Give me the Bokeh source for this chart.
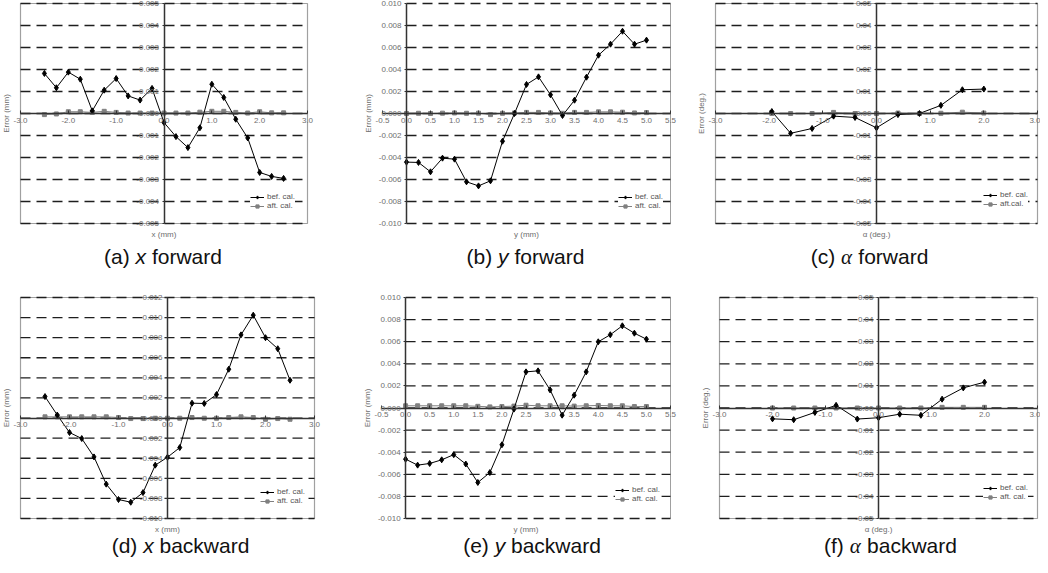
import math
from bokeh.plotting import figure
from bokeh.models import Range1d, FixedTicker, PrintfTickFormatter, Label
from bokeh.layouts import column, row
from bokeh.embed import file_html
from bokeh.resources import INLINE

# ---------------- data ----------------
x_pos = [-2.5, -2.25, -2.0, -1.75, -1.5, -1.25, -1.0, -0.75, -0.5, -0.25, 0.0,
         0.25, 0.5, 0.75, 1.0, 1.25, 1.5, 1.75, 2.0, 2.25, 2.5]
y_pos = [0.0, 0.25, 0.5, 0.75, 1.0, 1.25, 1.5, 1.75, 2.0, 2.25, 2.5,
         2.75, 3.0, 3.25, 3.5, 3.75, 4.0, 4.25, 4.5, 4.75, 5.0]
alpha_fwd_pos = [-1.95, -1.6, -1.2, -0.8, -0.4, 0.0, 0.4, 0.8, 1.2, 1.6, 2.0]
alpha_bwd_pos = [-2.0, -1.6, -1.2, -0.8, -0.4, 0.0, 0.4, 0.8, 1.2, 1.6, 2.0]

# (a) x forward
xf_bef = [0.00182, 0.00117, 0.00188, 0.00156, 0.00012, 0.00106, 0.00159, 0.00080, 0.00061, 0.00114, -0.00041,
          -0.00105, -0.00155, -0.00065, 0.00133, 0.00073, -0.00026, -0.00111, -0.00268, -0.00286, -0.00295]
xf_aft = [-0.00005, -0.00002, 0.00008, 0.00008, 0.00005, 0.00010, 0.00005, 0.00002, 0.00002, 0.00002, 0.00002,
          0.00002, 0.00002, 0.00006, 0.00010, 0.00010, 0.00005, 0.00002, 0.00008, 0.00003, 0.00003]
# (b) y forward
yf_bef = [-0.00442, -0.00445, -0.00530, -0.00406, -0.00415, -0.00621, -0.00658, -0.00612, -0.00252, 0.00000, 0.00264,
          0.00333, 0.00170, -0.00018, 0.00121, 0.00330, 0.00530, 0.00630, 0.00748, 0.00630, 0.00667]
yf_aft = [0.00000, 0.00002, 0.00000, 0.00003, 0.00005, 0.00002, 0.00003, -0.00010, 0.00002, 0.00005, 0.00010,
          0.00010, 0.00005, 0.00002, 0.00010, 0.00010, 0.00015, 0.00015, 0.00012, 0.00005, 0.00008]
# (c) alpha forward
af_bef = [0.0009, -0.0090, -0.0068, -0.0012, -0.0018, -0.0065, -0.0005, 0.0000, 0.0037, 0.0108, 0.0111]
af_aft = [0.0000, 0.0000, 0.0000, 0.0005, 0.0000, 0.0000, 0.0002, 0.0000, 0.0001, 0.0006, 0.0002]
# (d) x backward
xb_bef = [0.00214, 0.00030, -0.00144, -0.00204, -0.00387, -0.00658, -0.00811, -0.00838, -0.00742, -0.00469, -0.00390,
          -0.00294, 0.00148, 0.00145, 0.00234, 0.00486, 0.00828, 0.01024, 0.00800, 0.00690, 0.00376]
xb_aft = [0.00012, 0.00012, 0.00012, 0.00012, 0.00012, 0.00012, 0.00005, -0.00005, -0.00005, -0.00002, -0.00002,
          -0.00002, 0.00005, -0.00002, -0.00002, 0.00005, 0.00012, 0.00005, -0.00012, -0.00005, -0.00012]
# (e) y backward
yb_bef = [-0.00463, -0.00517, -0.00502, -0.00469, -0.00422, -0.00507, -0.00674, -0.00584, -0.00333, -0.00010, 0.00327,
          0.00336, 0.00164, -0.00065, 0.00116, 0.00327, 0.00599, 0.00663, 0.00744, 0.00677, 0.00623]
yb_aft = [0.00020, 0.00020, 0.00020, 0.00020, 0.00020, 0.00020, 0.00015, 0.00010, 0.00013, 0.00017, 0.00025,
          0.00020, 0.00020, 0.00020, 0.00017, 0.00020, 0.00023, 0.00020, 0.00020, 0.00013, 0.00013]
# (f) alpha backward
ab_bef = [-0.0049, -0.0053, -0.0020, 0.0012, -0.0050, -0.0044, -0.0028, -0.0033, 0.0040, 0.0091, 0.0117]
ab_aft = [0.0000, 0.0000, 0.0000, 0.0000, 0.0000, 0.0000, 0.0000, 0.0000, 0.0003, 0.0003, 0.0003]

# tick labels
xticks_pm3 = [-3.0, -2.0, -1.0, 0.0, 1.0, 2.0, 3.0]
xticks_y = [-0.5, 0.0, 0.5, 1.0, 1.5, 2.0, 2.5, 3.0, 3.5, 4.0, 4.5, 5.0, 5.5]
yticks_a = [-0.005, -0.004, -0.003, -0.002, -0.001, 0.0, 0.001, 0.002, 0.003, 0.004, 0.005]
yticks_10 = [-0.010, -0.008, -0.006, -0.004, -0.002, 0.0, 0.002, 0.004, 0.006, 0.008, 0.010]
yticks_d = [-0.010, -0.008, -0.006, -0.004, -0.002, 0.0, 0.002, 0.004, 0.006, 0.008, 0.010, 0.012]
yticks_alpha = [-0.05, -0.04, -0.03, -0.02, -0.01, 0.0, 0.01, 0.02, 0.03, 0.04, 0.05]

# ---------------- styling helpers ----------------
FONT = "Liberation Sans"
TXT_GRAY = "#6e6e6e"
AFT_GRAY = "#808080"
FRAME_GRAY = "#a0a0a0"

AW = {"(": .333, ")": .333, " ": .278, "a": .556, "b": .556, "c": .5, "d": .556, "e": .556,
      "f": .278, "k": .5, "o": .556, "r": .333, "w": .722, "x": .5, "y": .5, ".": .278,
      "l": .222, "t": .278, "\u03b1": .55}


def tw(s, size):
    return sum(AW.get(ch, .55) for ch in s) * size


def panel(xs, bef, aft, xticks, yticks, yfmt, xlab, ylab, aft_label,
          cap_prefix, cap_letter, cap_suffix, letter_font,
          width, height, bl, br, bt, bb, leg_right, leg_bottom, cap_dx, cap_dy,
          left_blank=False):
    # inner plotting area (bl, br, bt, bb are pixel margins around it)
    fw = width - bl - br
    fh = height - bt - bb
    x0, x1 = xticks[0], xticks[-1]
    y0, y1 = yticks[0], yticks[-1]
    sx = (x1 - x0) / fw
    sy = (y1 - y0) / fh
    p = figure(width=width, height=height,
               x_range=Range1d(x0 - bl * sx, x1 + br * sx),
               y_range=Range1d(y0 - bb * sy, y1 + bt * sy),
               output_backend="svg", toolbar_location=None,
               min_border_left=0, min_border_right=0, min_border_top=0, min_border_bottom=0)
    p.background_fill_color = "white"
    p.border_fill_color = "white"
    p.outline_line_color = None
    p.xgrid.visible = False
    p.ygrid.visible = False

    # frame of the plot area
    if left_blank:
        p.segment(x0=[x1], y0=[y0], x1=[x1], y1=[y1], line_color=FRAME_GRAY, line_width=1)
    else:
        p.quad(left=[x0], right=[x1], bottom=[y0], top=[y1], fill_color=None,
               line_color=FRAME_GRAY, line_width=1.2)

    # dashed horizontal grid lines at every y tick
    gx0 = 0.0 if left_blank else x0
    n = len(yticks)
    p.segment(x0=[gx0] * n, y0=yticks, x1=[x1] * n, y1=yticks,
              line_color="#1e1e1e", line_width=1.3, line_dash="10 6")

    for ax in p.xaxis:
        ax.fixed_location = 0
        ax.bounds = (x0, x1)
        ax.ticker = FixedTicker(ticks=xticks)
        ax.formatter = PrintfTickFormatter(format="%.1f")
        ax.major_label_text_font = FONT
        ax.major_label_text_font_size = "8px"
        ax.major_label_text_color = TXT_GRAY
        ax.major_tick_in = 3
        ax.major_tick_out = 0
        ax.major_tick_line_color = "#333333"
        ax.minor_tick_line_color = None
        ax.axis_line_color = "#333333"
        ax.axis_line_width = 1.5
        ax.major_label_standoff = 4
    for ax in p.yaxis:
        ax.fixed_location = 0
        ax.bounds = (y0, y1)
        ax.ticker = FixedTicker(ticks=yticks)
        ax.formatter = PrintfTickFormatter(format=yfmt)
        ax.major_label_text_font = FONT
        ax.major_label_text_font_size = "8px"
        ax.major_label_text_color = TXT_GRAY
        ax.major_tick_in = 0
        ax.major_tick_out = 2
        ax.major_tick_line_color = "#333333"
        ax.minor_tick_line_color = None
        ax.axis_line_color = "#333333"
        ax.axis_line_width = 1.5
        ax.major_label_standoff = 3

    p.line(xs, aft, color=AFT_GRAY, line_width=1, legend_label=aft_label)
    p.scatter(xs, aft, marker="square", size=4, color=AFT_GRAY, legend_label=aft_label)
    p.line(xs, bef, color="black", line_width=1, legend_label="bef. cal.")
    p.scatter(xs, bef, marker="diamond", size=6, color="black", legend_label="bef. cal.")

    lg = p.legend[0]
    lg.items = list(reversed(lg.items))
    pad = 2
    lw = 2 * pad + 14 + 3 + max(tw("bef. cal.", 8), tw(aft_label, 8))
    lg.location = (bl + fw - leg_right - lw + pad, bb + leg_bottom)
    lg.label_text_font = FONT
    lg.label_text_font_size = "8px"
    lg.label_text_color = "#555555"
    lg.glyph_width = 14
    lg.glyph_height = 8
    lg.label_height = 8
    lg.label_standoff = 3
    lg.spacing = 0
    lg.padding = pad
    lg.margin = 0
    lg.border_line_color = None
    lg.background_fill_color = "white"
    lg.background_fill_alpha = 1

    # axis titles
    p.add_layout(Label(x=bl - 14, y=bb + fh / 2, x_units="screen", y_units="screen", text=ylab,
                       angle=math.pi / 2, text_align="center", text_baseline="middle",
                       text_font=FONT, text_font_size="8px", text_color=TXT_GRAY))
    p.add_layout(Label(x=bl + fw / 2, y=bb - 11, x_units="screen", y_units="screen", text=xlab,
                       text_align="center", text_baseline="middle",
                       text_font=FONT, text_font_size="8px", text_color=TXT_GRAY))

    # caption "(a) x forward" with italic variable
    cs = 21
    gap = tw(" ", cs)
    wp = tw(cap_prefix, cs)
    wl = tw(cap_letter, cs)
    total = wp + gap + wl + gap + tw(cap_suffix, cs)
    left = bl + fw / 2 + cap_dx - total / 2
    common = dict(y=bb - cap_dy, x_units="screen", y_units="screen", text_align="left",
                  text_baseline="middle", text_font_size=f"{cs}px", text_color="#111111")
    p.add_layout(Label(x=left, text=cap_prefix, text_font=FONT, **common))
    p.add_layout(Label(x=left + wp + gap, text=cap_letter, text_font=letter_font,
                       text_font_style="italic", **common))
    p.add_layout(Label(x=left + wp + gap + wl + gap, text=cap_suffix, text_font=FONT, **common))
    return p


pa = panel(x_pos, xf_bef, xf_aft, xticks_pm3, yticks_a, "%.3f", "x (mm)", "Error (mm)", "aft. cal.",
           "(a)", "x", "forward", FONT, 346, 278, 20, 39, 3, 55, 10, 13, -1, 33)
pb = panel(y_pos, yf_bef, yf_aft, xticks_y, yticks_10, "%.3f", "y (mm)", "Error (mm)", "aft. cal.",
           "(b)", "y", "forward", FONT, 346, 278, 36, 22, 3, 55, 5, 13, -1, 33, left_blank=True)
pc = panel(alpha_fwd_pos, af_bef, af_aft, xticks_pm3, yticks_alpha, "%.2f", "\u03b1 (deg.)", "Error (deg.)", "aft.cal.",
           "(c)", "\u03b1", "forward", "Liberation Serif", 348, 278, 23, 3, 3, 55, 7, 15, -7, 33)
pd = panel(x_pos, xb_bef, xb_aft, xticks_pm3, yticks_d, "%.3f", "x (mm)", "Error (mm)", "aft. cal.",
           "(d)", "x", "backward", FONT, 346, 279, 20, 32, 19, 39, 7, 13, 13, 27)
pe = panel(y_pos, yb_bef, yb_aft, xticks_y, yticks_10, "%.3f", "y (mm)", "Error (mm)", "aft. cal.",
           "(e)", "y", "backward", FONT, 346, 279, 35, 22, 19, 39, 8, 15, 6, 27, left_blank=True)
pf = panel(alpha_bwd_pos, ab_bef, ab_aft, xticks_pm3, yticks_alpha, "%.2f", "\u03b1 (deg.)", "Error (deg.)", "aft. cal.",
           "(f)", "\u03b1", "backward", "Liberation Serif", 348, 279, 27, 3, 19, 39, 7, 17, 12, 27)

layout = column(row(pa, pb, pc), row(pd, pe, pf))
open("out.html", "w").write(file_html(layout, INLINE))
